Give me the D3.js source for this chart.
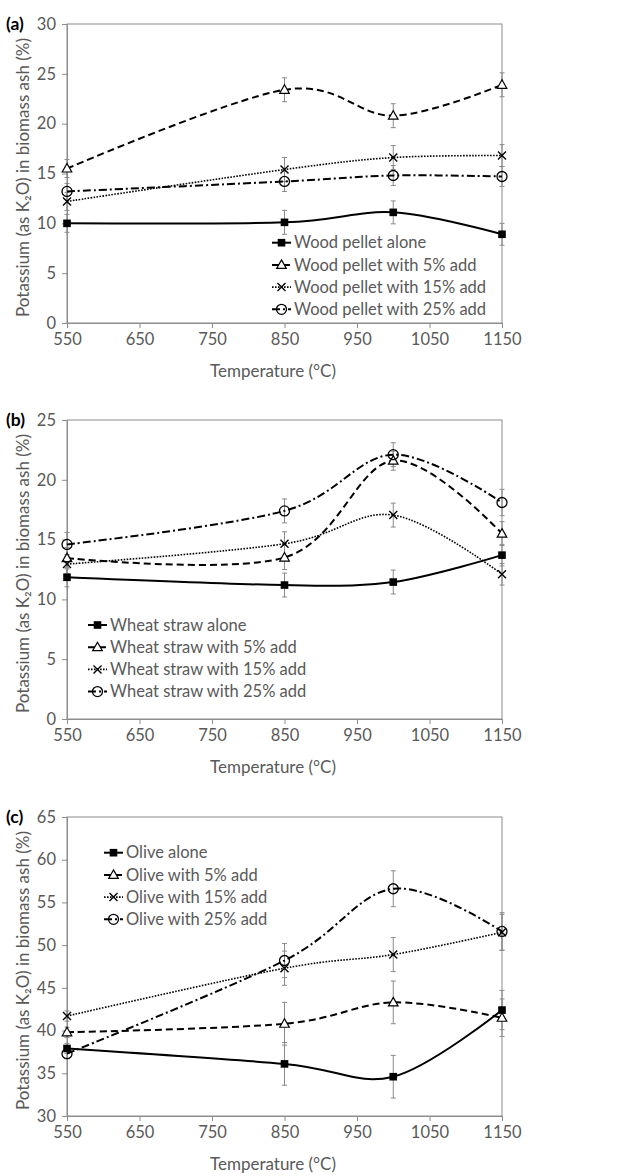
<!DOCTYPE html>
<html>
<head>
<meta charset="utf-8">
<script src="https://cdn.jsdelivr.net/npm/d3@7"></script>
<style>
  body { margin: 0; background: #fff; }
  svg text { font-family: Lato, "Open Sans", sans-serif; }
</style>
</head>
<body>
<svg id="chart" width="619" height="1176"></svg>
<script>
// temperatures (x) shared by all three panels
const temps = [550, 850, 1000, 1150];
const xTicks = [550, 650, 750, 850, 950, 1050, 1150];

// (a) wood pellet
const woodAlone = [10.0, 10.1, 11.1, 8.9];
const wood5 = [15.5, 23.4, 20.8, 23.9];
const wood15 = [12.2, 15.4, 16.6, 16.8];
const wood25 = [13.2, 14.2, 14.8, 14.7];
const woodAloneErr = [0.9, 1.2, 1.15, 1.1];
const wood5Err = [0.9, 1.2, 1.2, 1.2];
const wood15Err = [0.9, 1.2, 1.2, 1.1];
const wood25Err = [0.8, 1.0, 1.0, 1.0];

// (b) wheat straw
const wheatAlone = [11.85, 11.2, 11.45, 13.7];
const wheat5 = [13.45, 13.5, 21.6, 15.5];
const wheat15 = [12.95, 14.65, 17.05, 12.1];
const wheat25 = [14.6, 17.4, 22.1, 18.1];
const wheatAloneErr = [0.8, 1.0, 1.0, 0.9];
const wheat5Err = [0.9, 1.0, 0.8, 1.0];
const wheat15Err = [0.8, 1.0, 1.0, 0.9];
const wheat25Err = [1.0, 1.0, 1.0, 1.1];

// (c) olive
const oliveAlone = [37.9, 36.1, 34.6, 42.4];
const olive5 = [39.8, 40.8, 43.3, 41.5];
const olive15 = [41.7, 47.3, 48.9, 51.5];
const olive25 = [37.3, 48.2, 56.6, 51.6];
const oliveAloneErr = [0.6, 2.5, 2.5, 2.3];
const olive5Err = [0.6, 2.5, 2.5, 2.2];
const olive15Err = [0.6, 2.0, 2.0, 2.1];
const olive25Err = [0.6, 2.0, 2.1, 2.2];

const legendA = ['Wood pellet alone', 'Wood pellet with 5% add', 'Wood pellet with 15% add', 'Wood pellet with 25% add'];
const legendB = ['Wheat straw alone', 'Wheat straw with 5% add', 'Wheat straw with 15% add', 'Wheat straw with 25% add'];
const legendC = ['Olive alone', 'Olive with 5% add', 'Olive with 15% add', 'Olive with 25% add'];

const yTicksA = [0, 5, 10, 15, 20, 25, 30];
const yTicksB = [0, 5, 10, 15, 20, 25];
const yTicksC = [30, 35, 40, 45, 50, 55, 60, 65];

const yTitle = 'Potassium (as K\u2082O) in biomass ash (%)';
const xTitle = 'Temperature (\u00B0C)';

// line + marker styles, one per series
const styles = [
  { dash: null, width: 2, marker: 'square' },
  { dash: '7,4', width: 2, marker: 'triangle' },
  { dash: '1.6,1.4', width: 1.6, marker: 'cross' },
  { dash: '8,3,2,3', width: 2, marker: 'circle' }
];

const svg = d3.select('#chart');
const textGray = '#595959';
const axisGray = '#8c8c8c';

let left = 67, right = 502, plotH = 299;

function drawMarker(g, type, cx, cy) {
  if (type === 'square') {
    g.append('rect').attr('x', cx - 3.8).attr('y', cy - 3.8)
      .attr('width', 7.6).attr('height', 7.6).attr('fill', '#000');
  } else if (type === 'triangle') {
    g.append('path')
      .attr('d', `M${cx},${cy - 5} L${cx + 4.8},${cy + 3.5} L${cx - 4.8},${cy + 3.5} Z`)
      .attr('fill', '#fff').attr('stroke', '#000').attr('stroke-width', 1.2);
  } else if (type === 'cross') {
    g.append('path')
      .attr('d', `M${cx - 4},${cy - 4} L${cx + 4},${cy + 4} M${cx - 4},${cy + 4} L${cx + 4},${cy - 4}`)
      .attr('stroke', '#000').attr('stroke-width', 1.4);
  } else {
    g.append('circle').attr('cx', cx).attr('cy', cy).attr('r', 5)
      .attr('fill', 'none').attr('stroke', '#000').attr('stroke-width', 1.3);
  }
}

function drawPanel(p) {
  let x = d3.scaleLinear().domain([550, 1150]).range([left, right]);
  let y = d3.scaleLinear().domain(p.yDomain).range([p.top + plotH, p.top]);

  let g = svg.append('g');

  // plot border
  g.append('rect')
    .attr('x', left).attr('y', p.top)
    .attr('width', right - left).attr('height', plotH)
    .attr('fill', 'none').attr('stroke', axisGray).attr('stroke-width', 1);

  // y axis
  let yAxis = d3.axisLeft(y).tickValues(p.yTicks).tickSize(5).tickPadding(6);
  let ya = g.append('g').attr('transform', `translate(${left},0)`).call(yAxis);
  ya.select('.domain').attr('stroke', axisGray);
  ya.selectAll('.tick line').attr('stroke', axisGray);
  ya.selectAll('.tick text').attr('fill', textGray).style('font-size', '16.5px');

  // x axis
  let xAxis = d3.axisBottom(x).tickValues(xTicks).tickFormat(d3.format('d')).tickSize(5).tickPadding(5);
  let xa = g.append('g').attr('transform', `translate(0,${p.top + plotH})`).call(xAxis);
  xa.select('.domain').attr('stroke', axisGray);
  xa.selectAll('.tick line').attr('stroke', axisGray);
  xa.selectAll('.tick text').attr('fill', textGray).style('font-size', '16.5px');

  // titles
  g.append('text')
    .attr('transform', `translate(29,${p.top + plotH / 2 + 4}) rotate(-90)`)
    .attr('text-anchor', 'middle').attr('fill', textGray)
    .style('font-size', '17px').text(yTitle);
  g.append('text')
    .attr('x', 273).attr('y', p.top + plotH + 54)
    .attr('text-anchor', 'middle').attr('fill', textGray)
    .style('font-size', '17px').text(xTitle);
  g.append('text')
    .attr('x', 6).attr('y', p.top + 6)
    .attr('fill', '#000').style('font-size', '17.5px').style('font-weight', 'bold')
    .text(p.label);

  // error bars
  p.series.forEach((s) => {
    let eg = g.append('g').attr('stroke', '#8a8a8a').attr('stroke-width', 1);
    temps.forEach((t, i) => {
      let cx = x(t), y0 = y(s.values[i] - s.err[i]), y1 = y(s.values[i] + s.err[i]);
      eg.append('line').attr('x1', cx).attr('x2', cx).attr('y1', y0).attr('y2', y1);
      eg.append('line').attr('x1', cx - 2.5).attr('x2', cx + 2.5).attr('y1', y0).attr('y2', y0);
      eg.append('line').attr('x1', cx - 2.5).attr('x2', cx + 2.5).attr('y1', y1).attr('y2', y1);
    });
  });

  // smoothed lines
  let line = d3.line()
    .x((d) => x(d[0]))
    .y((d) => y(d[1]))
    .curve(d3.curveCardinal.tension(0));

  p.series.forEach((s, k) => {
    let st = styles[k];
    g.append('path')
      .datum(temps.map((t, i) => [t, s.values[i]]))
      .attr('fill', 'none').attr('stroke', '#000')
      .attr('stroke-width', st.width)
      .attr('stroke-dasharray', st.dash)
      .attr('d', line);
  });

  p.series.forEach((s, k) => {
    let mg = g.append('g');
    temps.forEach((t, i) => drawMarker(mg, styles[k].marker, x(t), y(s.values[i])));
  });

  // legend
  p.legend.forEach((name, k) => {
    let st = styles[k];
    let ly = p.legendY + k * 22.2;
    let lg = g.append('g');
    lg.append('line')
      .attr('x1', p.legendX).attr('x2', p.legendX + 19)
      .attr('y1', ly).attr('y2', ly)
      .attr('stroke', '#000').attr('stroke-width', st.width)
      .attr('stroke-dasharray', st.dash);
    drawMarker(lg, st.marker, p.legendX + 9.5, ly);
    lg.append('text')
      .attr('x', p.legendX + 22).attr('y', ly).attr('dy', '0.35em')
      .attr('fill', textGray).style('font-size', '16.5px')
      .text(name);
  });
}

drawPanel({
  label: '(a)', top: 24, yDomain: [0, 30], yTicks: yTicksA,
  legend: legendA, legendX: 272, legendY: 242.7,
  series: [
    { values: woodAlone, err: woodAloneErr },
    { values: wood5, err: wood5Err },
    { values: wood15, err: wood15Err },
    { values: wood25, err: wood25Err }
  ]
});

drawPanel({
  label: '(b)', top: 420, yDomain: [0, 25], yTicks: yTicksB,
  legend: legendB, legendX: 88, legendY: 625,
  series: [
    { values: wheatAlone, err: wheatAloneErr },
    { values: wheat5, err: wheat5Err },
    { values: wheat15, err: wheat15Err },
    { values: wheat25, err: wheat25Err }
  ]
});

drawPanel({
  label: '(c)', top: 817, yDomain: [30, 65], yTicks: yTicksC,
  legend: legendC, legendX: 104, legendY: 852.7,
  series: [
    { values: oliveAlone, err: oliveAloneErr },
    { values: olive5, err: olive5Err },
    { values: olive15, err: olive15Err },
    { values: olive25, err: olive25Err }
  ]
});
</script>
</body>
</html>
